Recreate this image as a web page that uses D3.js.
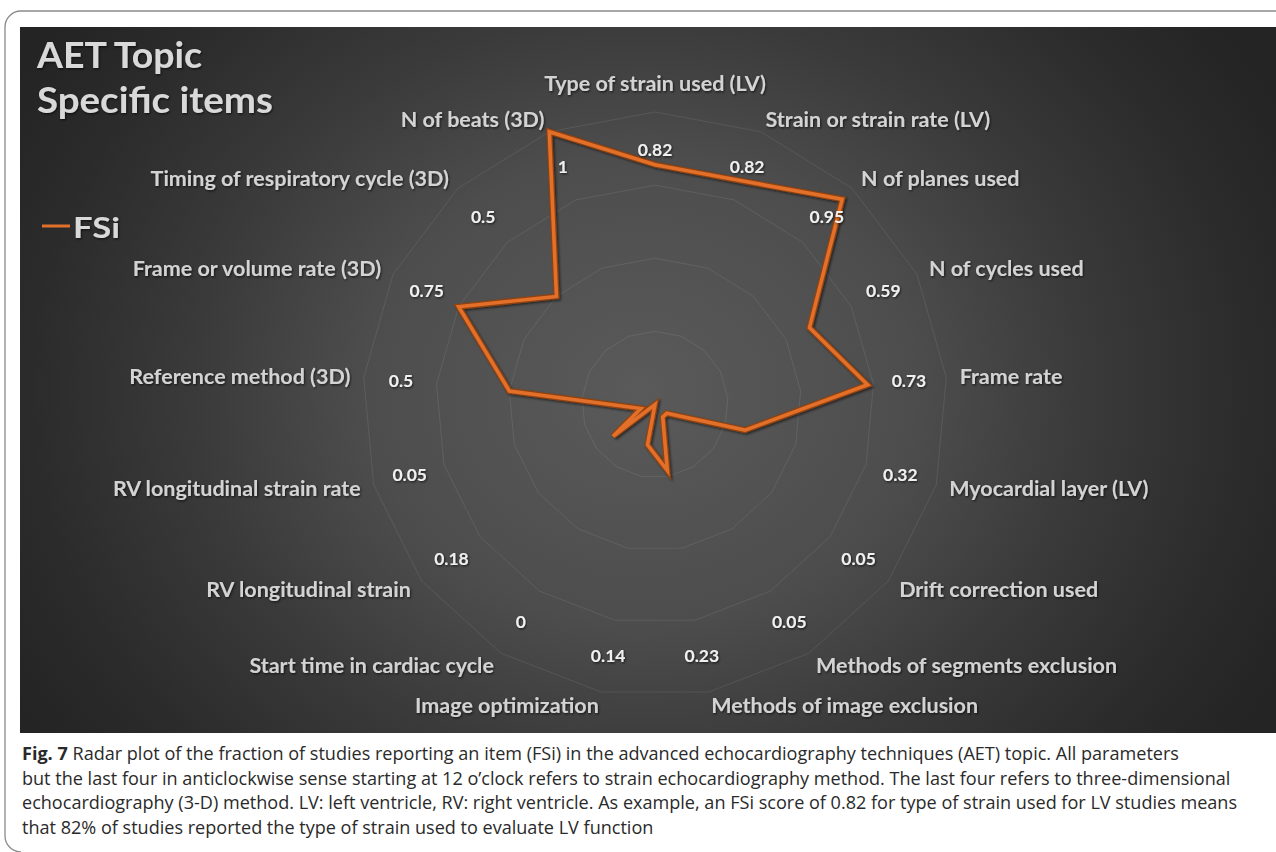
<!DOCTYPE html>
<html>
<head>
<meta charset="utf-8">
<script src="https://cdn.jsdelivr.net/npm/d3@7"></script>
<style>
  html, body { margin: 0; padding: 0; background: #ffffff; }
  svg { display: block; }
</style>
</head>
<body>
<svg id="chart" width="1276" height="852"></svg>
<script>
// ---------------- data ----------------
const categories = [
  "Type of strain used (LV)",
  "Strain or strain rate (LV)",
  "N of planes used",
  "N of cycles used",
  "Frame rate",
  "Myocardial layer (LV)",
  "Drift correction used",
  "Methods of segments exclusion",
  "Methods of image exclusion",
  "Image optimization",
  "Start time in cardiac cycle",
  "RV longitudinal strain",
  "RV longitudinal strain rate",
  "Reference method (3D)",
  "Frame or volume rate (3D)",
  "Timing of respiratory cycle (3D)",
  "N of beats (3D)"
];
const fsiValues = [0.82, 0.82, 0.95, 0.59, 0.73, 0.32, 0.05, 0.05, 0.23, 0.14, 0, 0.18, 0.05, 0.5, 0.75, 0.5, 1];
const ringTicks = [0.25, 0.5, 0.75, 1];
const seriesName = "FSi";
const titleLines = ["AET Topic", "Specific items"];
const captionBold = "Fig. 7";
const captionLines = [
  "Radar plot of the fraction of studies reporting an item (FSi) in the advanced echocardiography techniques (AET) topic. All parameters",
  "but the last four in anticlockwise sense starting at 12 o\u2019clock refers to strain echocardiography method. The last four refers to three-dimensional",
  "echocardiography (3-D) method. LV: left ventricle, RV: right ventricle. As example, an FSi score of 0.82 for type of strain used for LV studies means",
  "that 82% of studies reported the type of strain used to evaluate LV function"
];

// ---------------- layout ----------------
const svg = d3.select("#chart");
const W = 1276, H = 852;
const cx = 655, cy = 404.5, R = 292.5;
const N = categories.length;

const defs = svg.append("defs");
const bg = defs.append("radialGradient")
  .attr("id", "bgGrad").attr("gradientUnits", "userSpaceOnUse")
  .attr("cx", 640).attr("cy", 390).attr("r", 720)
  .attr("gradientTransform", "translate(640,390) scale(1,0.85) translate(-640,-390)");
[[0, "#5a5a5a"], [0.38, "#4d4d4d"], [0.62, "#3a3a3a"], [0.85, "#2b2b2b"], [1, "#242424"]]
  .forEach(([o, c]) => bg.append("stop").attr("offset", o).attr("stop-color", c));

const sh = defs.append("filter").attr("id", "txtShadow")
  .attr("x", "-10%").attr("y", "-30%").attr("width", "120%").attr("height", "160%");
sh.append("feDropShadow").attr("dx", 1).attr("dy", 1.2).attr("stdDeviation", 0.9)
  .attr("flood-color", "#000").attr("flood-opacity", 0.65);

const lsh = defs.append("filter").attr("id", "lineShadow")
  .attr("x", "-10%").attr("y", "-10%").attr("width", "120%").attr("height", "120%");
lsh.append("feDropShadow").attr("dx", 1.5).attr("dy", 1.5).attr("stdDeviation", 1.2)
  .attr("flood-color", "#000").attr("flood-opacity", 0.55);

// outer page frame
svg.append("path")
  .attr("d", `M${W},11 H21 A16,16 0 0 0 5,27 V836 A16,16 0 0 0 21,852`)
  .attr("fill", "none").attr("stroke", "#8a8a8a").attr("stroke-width", 1.3);

// dark panel
svg.append("rect").attr("x", 20).attr("y", 27).attr("width", W - 20).attr("height", 706)
  .attr("fill", "url(#bgGrad)");

// scales
const rScale = d3.scaleLinear().domain([0, 1]).range([0, R]);
const aScale = d3.scaleLinear().domain([0, N]).range([0, 2 * Math.PI]);

const g = svg.append("g").attr("transform", `translate(${cx},${cy})`);

// grid rings (polygons)
const ringLine = d3.lineRadial()
  .angle((d, i) => aScale(i))
  .radius(d => rScale(d))
  .curve(d3.curveLinearClosed);
g.selectAll("path.ring").data(ringTicks).enter().append("path")
  .attr("class", "ring")
  .attr("d", t => ringLine(d3.range(N).map(() => t)))
  .attr("fill", "none")
  .attr("stroke", "rgba(255,255,255,0.085)")
  .attr("stroke-width", 1);

// series line
const seriesLine = d3.lineRadial()
  .angle((d, i) => aScale(i))
  .radius(d => rScale(d))
  .curve(d3.curveLinearClosed);
g.append("path")
  .attr("d", seriesLine(fsiValues))
  .attr("fill", "none")
  .attr("stroke", "#934210")
  .attr("stroke-width", 6)
  .attr("stroke-linejoin", "miter").attr("stroke-miterlimit", 6)
  .attr("filter", "url(#lineShadow)");
g.append("path")
  .attr("d", seriesLine(fsiValues))
  .attr("fill", "none")
  .attr("stroke", "#E2702A")
  .attr("stroke-width", 3.6)
  .attr("stroke-linejoin", "miter").attr("stroke-miterlimit", 6);

// category labels
const labelR = R * 1.046;
g.selectAll("text.cat").data(categories).enter().append("text")
  .attr("class", "cat")
  .each(function (d, i) {
    const a = aScale(i), s = Math.sin(a), c = Math.cos(a);
    let x = labelR * s, y = -labelR * c;
    let anchor = s > 0.05 ? "start" : (s < -0.05 ? "end" : "middle");
    if (anchor === "middle") y += (c > 0 ? -15.5 : 15.5);
    d3.select(this).attr("x", x).attr("y", y).attr("text-anchor", anchor);
  })
  .attr("dominant-baseline", "central")
  .attr("font-family", "Lato, 'Open Sans', sans-serif")
  .attr("font-weight", 700)
  .attr("font-size", 21.5)
  .attr("fill", "#d3d3d3")
  .attr("filter", "url(#txtShadow)")
  .text(d => d);

// value labels
const valR = R * 0.872;
g.selectAll("text.val").data(fsiValues).enter().append("text")
  .attr("class", "val")
  .attr("x", (d, i) => valR * Math.sin(aScale(i)))
  .attr("y", (d, i) => -valR * Math.cos(aScale(i)))
  .attr("text-anchor", "middle")
  .attr("dominant-baseline", "central")
  .attr("font-family", "Lato, 'Open Sans', sans-serif")
  .attr("font-weight", 700)
  .attr("font-size", 17.5)
  .attr("fill", "#f0f0f0")
  .attr("filter", "url(#txtShadow)")
  .text(d => String(d));

// title
const titleWidths = [165, 236];
svg.selectAll("text.title").data(titleLines).enter().append("text")
  .attr("class", "title")
  .attr("x", 37)
  .attr("y", (d, i) => 68 + i * 45)
  .attr("font-family", "Lato, 'Open Sans', sans-serif")
  .attr("font-weight", 700)
  .attr("font-size", 36)
  .attr("fill", "#d9d9d9")
  .attr("filter", "url(#txtShadow)")
  .attr("textLength", (d, i) => titleWidths[i])
  .attr("lengthAdjust", "spacingAndGlyphs")
  .text(d => d);

// legend
svg.append("line").attr("x1", 42).attr("x2", 70).attr("y1", 226).attr("y2", 226)
  .attr("stroke", "#E2702A").attr("stroke-width", 3);
svg.append("text").attr("x", 73).attr("y", 238)
  .attr("font-family", "Lato, 'Open Sans', sans-serif")
  .attr("font-weight", 700).attr("font-size", 29)
  .attr("textLength", 47).attr("lengthAdjust", "spacingAndGlyphs")
  .attr("fill", "#d9d9d9").attr("filter", "url(#txtShadow)")
  .text(seriesName);

// caption
const cap = svg.append("g").attr("class", "caption");
const capTexts = captionLines.map((line, i) => {
  const t = cap.append("text")
    .attr("x", 22).attr("y", 760 + i * 24.7)
    .attr("font-family", "'Open Sans', 'Noto Sans', sans-serif")
    .attr("font-size", 18.5)
    .attr("fill", "#2a2a2a");
  if (i === 0) {
    t.append("tspan").attr("font-weight", 700).text(captionBold + "  ");
  }
  t.append("tspan").text(line);
  return t;
});
// uniform horizontal condensation so that line 3 reaches its reference width
const natural = capTexts.map(t => t.node().getComputedTextLength());
const k = 1215 / natural[2];
capTexts.forEach((t, i) => {
  t.attr("textLength", natural[i] * k).attr("lengthAdjust", "spacingAndGlyphs");
});
</script>
</body>
</html>
